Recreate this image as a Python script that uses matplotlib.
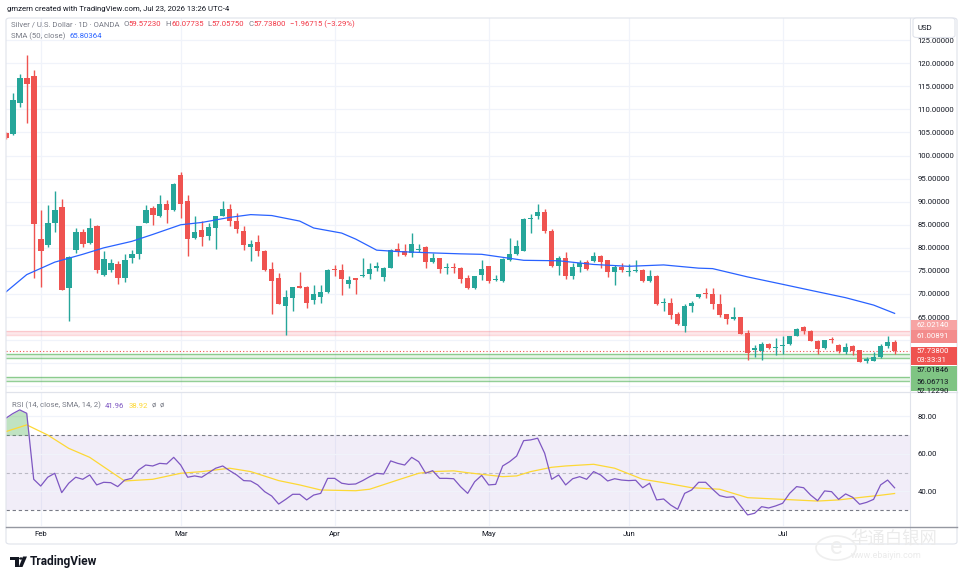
import numpy as np
import pandas as pd
import matplotlib
matplotlib.use("Agg")
import matplotlib.pyplot as plt
from matplotlib.patches import Rectangle, FancyBboxPatch, Polygon, Circle
from matplotlib.lines import Line2D
from matplotlib.ticker import FormatStrFormatter

# trading days shown (Memorial Day has no bar)
dates = pd.bdate_range("2026-01-26", "2026-07-23")
dates = dates[dates != pd.Timestamp("2026-05-25")]

opens = [104.8, 104.7, 111.3, 116.7, 117.2, 82.0, 80.6, 85.4, 88.8, 71.2,
         79.5, 83.5, 81.0, 84.8, 74.2, 75.3, 76.6, 73.4, 77.7, 78.7,
         85.4, 88.7, 86.8, 89.4, 88.1, 95.8, 90.2, 82.2, 83.8, 82.5,
         84.3, 87.0, 88.4, 85.8, 83.7, 80.1, 81.2, 79.3, 75.5, 73.4,
         67.4, 69.1, 71.7, 71.6, 68.6, 69.4, 70.4, 75.5, 75.2, 72.2,
         73.4, 73.8, 74.3, 75.6, 73.7, 75.7, 79.8, 79.4, 78.8, 79.6,
         80.1, 76.9, 77.8, 75.6, 75.8, 75.7, 73.4, 71.2, 74.2, 76.0,
         73.0, 72.8, 77.3, 78.7, 79.4, 86.2, 87.0, 87.8, 83.6, 76.0,
         77.8, 73.9, 75.8, 76.9, 77.1, 78.3, 77.3, 74.8, 75.9, 74.7,
         75.0, 75.3, 72.8, 74.0, 68.0, 68.1, 65.6, 63.0, 67.4, 69.4,
         70.1, 69.9, 67.8, 65.6, 64.5, 65.0, 61.6, 57.8, 57.7, 59.1,
         58.3, 58.8, 59.1, 60.9, 62.8, 62.0, 59.9, 58.2, 60.2, 58.9,
         57.5, 58.7, 57.8, 55.5, 55.5, 56.3, 58.7, 59.5723]
highs = [105.0, 113.6, 117.7, 121.8, 118.5, 88.1, 89.2, 92.4, 90.6, 78.2,
         84.2, 84.0, 86.5, 84.9, 79.4, 77.5, 77.1, 78.6, 79.6, 84.8,
         89.2, 89.1, 91.5, 90.4, 94.0, 96.5, 91.5, 87.0, 85.8, 85.3,
         87.0, 90.2, 89.5, 87.6, 84.7, 81.8, 82.7, 79.5, 76.9, 74.6,
         70.8, 71.6, 74.7, 71.7, 71.9, 72.0, 75.5, 76.2, 76.4, 73.9,
         73.5, 77.7, 76.8, 77.0, 75.8, 79.8, 81.1, 80.9, 83.2, 80.9,
         80.4, 78.9, 77.9, 76.8, 76.8, 75.8, 74.2, 74.0, 77.3, 76.1,
         74.2, 77.8, 82.2, 81.8, 86.4, 87.4, 89.6, 88.5, 84.0, 78.2,
         79.1, 76.8, 77.3, 77.3, 79.1, 78.4, 77.4, 76.2, 76.8, 76.4,
         77.3, 75.5, 75.3, 74.1, 69.2, 69.2, 66.0, 67.8, 68.5, 70.1,
         71.4, 71.4, 69.9, 65.7, 67.2, 65.1, 62.3, 58.9, 59.6, 59.3,
         60.4, 60.9, 61.0, 62.7, 63.1, 62.1, 60.0, 60.1, 60.7, 59.1,
         59.3, 58.9, 57.9, 56.3, 57.4, 59.1, 60.9, 60.07735]
lows = [103.6, 104.5, 110.6, 107.0, 73.5, 71.6, 80.2, 83.4, 70.8, 64.2,
        78.8, 80.1, 80.8, 74.6, 74.0, 74.8, 72.1, 72.6, 76.8, 77.5,
        85.3, 85.0, 86.6, 85.4, 88.0, 86.5, 78.2, 82.0, 80.5, 81.8,
        79.8, 86.9, 84.7, 83.2, 79.5, 77.1, 78.3, 75.0, 65.6, 67.8,
        61.1, 66.3, 71.2, 67.0, 67.8, 68.0, 70.3, 73.9, 69.7, 71.4,
        69.9, 73.7, 73.2, 75.0, 72.8, 75.6, 78.3, 78.3, 78.1, 79.0,
        75.6, 76.8, 74.6, 74.3, 74.6, 72.3, 71.0, 71.1, 73.0, 72.4,
        72.8, 72.7, 77.2, 78.5, 79.3, 83.2, 86.2, 83.2, 75.9, 74.1,
        73.3, 73.3, 74.7, 75.2, 77.0, 75.7, 73.7, 71.9, 74.7, 74.0,
        74.8, 72.7, 72.7, 67.7, 66.3, 64.5, 63.3, 61.8, 66.1, 69.2,
        69.2, 66.7, 65.0, 63.4, 64.4, 61.3, 55.7, 56.4, 55.7, 58.0,
        56.8, 57.1, 58.9, 60.8, 61.4, 59.8, 57.1, 58.1, 59.4, 57.2,
        57.0, 56.8, 55.2, 55.0, 55.4, 56.1, 58.4, 57.0575]
closes = [103.9, 112.0, 116.9, 115.6, 85.2, 79.4, 85.4, 88.3, 70.9, 78.1,
          83.5, 80.8, 84.3, 75.3, 77.5, 76.8, 73.5, 77.3, 78.7, 84.7,
          88.3, 87.2, 89.4, 88.3, 93.9, 89.4, 82.0, 83.5, 82.3, 84.5,
          87.0, 88.4, 85.9, 84.0, 80.6, 80.9, 79.3, 75.3, 72.8, 67.9,
          69.3, 71.5, 71.3, 68.0, 69.9, 70.4, 75.3, 75.2, 73.2, 73.0,
          73.0, 74.2, 75.4, 76.0, 75.7, 79.6, 79.1, 78.5, 80.9, 79.8,
          76.9, 77.9, 75.5, 75.8, 75.6, 73.2, 71.2, 73.9, 75.5, 72.8,
          73.2, 77.6, 78.7, 80.5, 86.3, 86.5, 87.7, 83.6, 76.0, 77.8,
          73.9, 75.9, 76.8, 75.5, 78.3, 76.9, 74.7, 75.8, 75.3, 75.0,
          75.3, 72.8, 74.0, 67.8, 68.3, 65.5, 63.4, 67.4, 68.1, 69.9,
          70.0, 67.8, 65.4, 64.5, 65.0, 61.4, 57.3, 58.2, 59.1, 58.2,
          58.5, 58.9, 60.9, 62.4, 62.0, 59.9, 58.1, 60.0, 60.1, 57.6,
          58.6, 57.6, 55.3, 55.9, 56.4, 58.7, 59.6, 57.738]

# SMA(50)
sma_idx = [0, 3, 7, 11, 14, 18, 21, 25, 28, 32, 35, 38, 42, 44, 48, 50, 53,
           56, 61, 65, 68, 74, 79, 84, 89, 94, 99, 101, 106, 111, 115, 120,
           124, 127]
sma_val = [70.4, 74.2, 76.9, 78.6, 80.0, 81.4, 82.9, 85.0, 85.5, 86.6, 87.2,
           87.0, 85.8, 84.3, 83.2, 81.9, 79.5, 79.2, 78.9, 78.7, 78.6, 77.3,
           77.2, 76.4, 76.0, 76.3, 75.6, 75.5, 73.7, 72.1, 70.8, 69.2, 67.6,
           65.80364]

rsi = [79.0, 81.5, 83.5, 81.7, 46.5, 42.9, 47.6, 49.7, 39.4, 44.4,
       47.6, 46.5, 48.8, 43.5, 44.9, 44.7, 42.6, 46.1, 47.0, 51.5,
       54.1, 53.6, 55.0, 54.7, 58.2, 54.1, 47.6, 48.3, 47.6, 50.0,
       52.4, 53.6, 51.1, 48.8, 45.8, 45.6, 43.5, 39.9, 37.6, 33.3,
       35.8, 38.5, 38.5, 35.5, 38.1, 39.0, 47.0, 47.0, 44.4, 43.8,
       44.0, 45.8, 47.9, 49.7, 49.3, 56.3, 55.0, 54.1, 58.2, 55.9,
       49.7, 51.1, 47.0, 47.0, 46.8, 42.5, 39.0, 45.2, 48.6, 43.5,
       43.8, 53.6, 55.9, 58.9, 67.1, 67.5, 68.4, 60.4, 46.5, 48.8,
       43.5, 46.8, 47.9, 46.5, 50.6, 48.8, 45.6, 46.8, 46.1, 45.8,
       46.0, 42.0, 44.4, 35.5, 36.0, 32.8, 30.5, 39.0, 40.8, 44.9,
       44.9, 41.2, 37.8, 36.9, 37.2, 32.3, 27.5, 28.4, 31.9, 31.2,
       32.3, 33.7, 39.0, 42.6, 42.0, 38.1, 35.1, 40.3, 39.9, 35.8,
       38.7, 36.9, 33.2, 34.2, 35.8, 43.5, 46.1, 41.96]

rsi_sma_idx = [0, 3, 6, 9, 12, 15, 17, 21, 25, 28, 32, 35, 39, 42, 45, 50, 52,
               56, 59, 61, 64, 66, 71, 73, 75, 78, 80, 84, 87, 91, 94, 98, 102,
               106, 111, 116, 119, 123, 125, 127]
rsi_sma_val = [71.9, 75.5, 70.1, 63.0, 58.2, 50.6, 45.6, 46.5, 49.7, 50.6,
               52.4, 50.6, 45.8, 43.5, 40.8, 40.4, 41.2, 46.1, 49.7, 50.6,
               51.0, 50.0, 47.9, 48.3, 50.6, 52.9, 53.6, 54.5, 52.4, 46.5,
               44.7, 42.0, 41.2, 36.7, 35.8, 34.9, 35.5, 37.2, 38.0, 38.92]

resist_band = (61.00891, 62.02140)
support_band = (56.06713, 57.01846)
support_low = 52.12290
last_price = 57.73800

UP = "#26a69a"
DOWN = "#ef5350"
GRID = "#f0f3fa"
TXT = "#131722"
GRAY = "#787b86"
BORDER = "#e0e3eb"

plt.rcParams["font.family"] = ["Roboto", "DejaVu Sans"]
FS = 5.6

W, H = 964, 582


def fx(x):
    return x / W


def fy(y):
    return 1 - y / H


fig = plt.figure(figsize=(W / 100, H / 100), dpi=100)
fig.patch.set_facecolor("white")

ax = fig.add_axes([fx(6), fy(390), fx(910) - fx(6), fy(18) - fy(390)])
ax_rsi = fig.add_axes([fx(6), fy(526), fx(910) - fx(6), fy(393) - fy(526)])

x = np.arange(len(closes))
o = np.array(opens)
h = np.array(highs)
l = np.array(lows)
c = np.array(closes)
cols = np.where(c >= o, UP, DOWN)

month_pos = [i for i in range(1, len(dates)) if dates[i].month != dates[i - 1].month]
month_lab = [dates[i].strftime("%b") for i in month_pos]

# ---- main price pane
for a in (ax, ax_rsi):
    for s in a.spines.values():
        s.set_visible(False)
    for m in month_pos:
        a.axvline(m, color=GRID, lw=0.9, zorder=0)
    a.set_xlim(0.04, 129.2)

for p in np.arange(50, 130, 5):
    ax.axhline(p, color=GRID, lw=0.9, zorder=0)

ax.axhspan(*resist_band, color="#f7525f", alpha=0.13, lw=0, zorder=1)
for p in resist_band:
    ax.axhline(p, color="#f7525f", alpha=0.22, lw=1, zorder=1)
ax.axhspan(*support_band, color="#4caf50", alpha=0.12, lw=0, zorder=1)
for p in support_band:
    ax.axhline(p, color="#4caf50", alpha=0.6, lw=1, zorder=1)
ax.axhspan(support_low - 0.97, support_low, color="#4caf50", alpha=0.12, lw=0, zorder=1)
for p in (support_low - 0.97, support_low):
    ax.axhline(p, color="#4caf50", alpha=0.6, lw=1, zorder=1)
ax.axhline(last_price, color=DOWN, lw=0.8, ls=(0, (1, 2)), zorder=2)

ax.vlines(x, l, h, colors=cols, lw=1.0, zorder=3)
ax.bar(x, np.maximum(np.abs(c - o), 0.12), bottom=np.minimum(o, c), width=0.8,
       color=cols, lw=0, zorder=4)
ax.plot(sma_idx, sma_val, color="#2962ff", lw=0.9, zorder=5)

ax.set_ylim(49.2, 129.8)
ax.set_yticks(np.arange(60, 126, 5))
ax.yaxis.set_major_formatter(FormatStrFormatter("%.5f"))
ax.yaxis.tick_right()
ax.tick_params(axis="y", length=0, pad=5.5, labelsize=FS, labelcolor=TXT)
ax.set_xticks([])

# ---- RSI pane
ax_rsi.axhspan(30, 70, color="#7e57c2", alpha=0.1, lw=0, zorder=0)
for p in (40, 60, 80):
    ax_rsi.axhline(p, color=GRID, lw=0.9, zorder=0)
ax_rsi.axhline(70, color=GRAY, lw=0.8, ls=(0, (3, 2.5)), zorder=1)
ax_rsi.axhline(30, color=GRAY, lw=0.8, ls=(0, (3, 2.5)), zorder=1)
ax_rsi.axhline(50, color=GRAY, lw=0.8, ls=(0, (3, 2.5)), alpha=0.45, zorder=1)
rsi_a = np.array(rsi)
ax_rsi.fill_between(x, 70, rsi_a, where=rsi_a > 70, interpolate=True,
                    color="#4caf50", alpha=0.35, lw=0, zorder=2)
ax_rsi.plot(rsi_sma_idx, rsi_sma_val, color="#fdd835", lw=0.9, zorder=3)
ax_rsi.plot(x, rsi_a, color="#7e57c2", lw=0.9, zorder=4)
ax_rsi.set_ylim(21.6, 92.5)
ax_rsi.set_yticks([40, 60, 80])
ax_rsi.yaxis.set_major_formatter(FormatStrFormatter("%.2f"))
ax_rsi.yaxis.tick_right()
ax_rsi.tick_params(axis="y", length=0, pad=5.5, labelsize=FS, labelcolor=TXT)
ax_rsi.set_xticks(month_pos)
ax_rsi.set_xticklabels(month_lab)
ax_rsi.tick_params(axis="x", length=0, pad=3.5, labelsize=FS, labelcolor=TXT)

# ---- frame and separators
fig.add_artist(FancyBboxPatch((fx(6), fy(544)), fx(957) - fx(6), fy(18) - fy(544),
                              boxstyle="round,pad=0,rounding_size=0.004",
                              fc="none", ec=BORDER, lw=0.8, transform=fig.transFigure))
fig.add_artist(Line2D([fx(910), fx(910)], [fy(18), fy(544)], color=BORDER, lw=0.8))
fig.add_artist(Line2D([fx(6), fx(957)], [fy(391.5), fy(391.5)], color=BORDER, lw=0.9))
fig.add_artist(Line2D([fx(6), fx(957)], [fy(526.5), fy(526.5)], color="#9598a1", lw=1.0))


def box(y0, y1, color):
    fig.add_artist(Rectangle((fx(911), fy(y1)), fx(957) - fx(911), fy(y0) - fy(y1),
                             fc=color, ec="none", transform=fig.transFigure, zorder=2))


def lab(y, s, color):
    fig.text(fx(916.5), fy(y), s, fontsize=FS, color=color, va="center", ha="left", zorder=3)


box(319.5, 329.5, "#f7a4a4")
box(329.5, 342.5, "#f38c8c")
box(346.5, 364.5, DOWN)
box(365.5, 391, "#7fc483")
lab(325, "%.5f" % resist_band[1], "white")
lab(336, "%.5f" % resist_band[0], "white")
lab(351, "%.5f" % last_price, "white")
lab(359.5, "03:33:31", "white")
lab(370.5, "%.5f" % support_band[1], TXT)
lab(381.5, "%.5f" % support_band[0], TXT)
lab(391, "%.5f" % support_low, TXT)

fig.add_artist(FancyBboxPatch((fx(913), fy(37.5)), fx(955) - fx(913), fy(18) - fy(37.5),
                              boxstyle="round,pad=0,rounding_size=0.004",
                              fc="white", ec=BORDER, lw=0.8, transform=fig.transFigure,
                              zorder=2))
fig.text(fx(917), fy(27.5), "USD", fontsize=FS, color=TXT, va="center", zorder=3)

# ---- header texts
renderer = fig.canvas.get_renderer()


def rich(x0, y, parts, size=FS):
    cur = x0
    for s, col, gap in parts:
        t = fig.text(fx(cur), fy(y), s, color=col, fontsize=size, va="center", ha="left")
        cur += t.get_window_extent(renderer=renderer).width + gap


RED = "#f23645"
fig.text(fx(7), fy(9), "gmzern created with TradingView.com, Jul 23, 2026 13:26 UTC-4",
         fontsize=FS, color=TXT, va="center")
rich(11, 24.5, [("Silver / U.S. Dollar · 1D · OANDA", GRAY, 4),
                ("O", GRAY, 0), ("59.57230", RED, 4),
                ("H", GRAY, 0), ("60.07735", RED, 4),
                ("L", GRAY, 0), ("57.05750", RED, 4),
                ("C", GRAY, 0), ("57.73800", RED, 4),
                ("\u22121.96715 (\u22123.29%)", RED, 0)])
rich(11, 36.5, [("SMA (50, close)", GRAY, 4), ("65.80364", "#2962ff", 0)])
rich(12, 405.5, [("RSI (14, close, SMA, 14, 2)", GRAY, 4), ("41.96", "#7e57c2", 4),
                 ("38.92", "#fdd835", 4), ("ø", GRAY, 4), ("ø", GRAY, 0)])

# ---- TradingView logo
logo_c = "#131722"
fig.add_artist(Polygon([(fx(10), fy(556.5)), (fx(18.5), fy(556.5)), (fx(18.5), fy(567)),
                        (fx(15), fy(567)), (fx(15), fy(560)), (fx(10), fy(560))],
                       closed=True, fc=logo_c, ec="none", transform=fig.transFigure))
fig.add_artist(Circle((fx(21), fy(558.5)), 1.9 / W, fc=logo_c, ec="none",
                      transform=fig.transFigure))
fig.add_artist(Polygon([(fx(23), fy(556.5)), (fx(27), fy(556.5)), (fx(22.5), fy(567)),
                        (fx(18.8), fy(567))],
                       closed=True, fc=logo_c, ec="none", transform=fig.transFigure))
fig.text(fx(30), fy(562), "TradingView", fontsize=8.6, fontweight="bold",
         color=logo_c, va="center")

# ---- watermark of the hosting site
fig.add_artist(Circle((fx(836), fy(548)), 20 / W, fc="none", ec="#efefef", lw=1.2,
                      transform=fig.transFigure))
fig.text(fx(836), fy(548), "e", fontsize=17, color="#efefef", ha="center", va="center")
fig.text(fx(850), fy(539), "华通白银网", fontsize=12.5, color="#ebebeb", va="center",
         family=["Noto Sans CJK SC", "DejaVu Sans"])
fig.text(fx(851), fy(556), "www.ebaiyin.com", fontsize=6.5, color="#ebebeb", va="center")

fig.savefig("out.png", dpi=100)
